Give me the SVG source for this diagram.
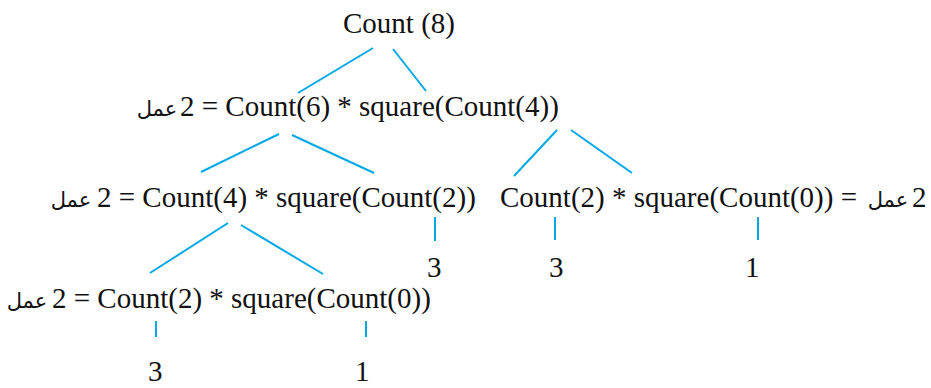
<svg xmlns="http://www.w3.org/2000/svg" width="931" height="388" viewBox="0 0 931 388">
<style>
.t{font-family:'Liberation Serif','Times New Roman',serif;font-size:29px;fill:#111}
.ar{font-family:'DejaVu Sans',sans-serif;font-size:21px;fill:#111;text-anchor:middle}
#connectors line{stroke:#00a9e6;stroke-width:2}
</style>
<rect width="931" height="388" fill="#fff"/>
<g id="connectors">
<line x1="373" y1="48" x2="298" y2="93"/>
<line x1="393" y1="49" x2="426" y2="91"/>
<line x1="279" y1="134" x2="201" y2="172"/>
<line x1="292" y1="135" x2="374" y2="173"/>
<line x1="557" y1="130" x2="514" y2="176"/>
<line x1="571" y1="130" x2="632" y2="173"/>
<line x1="228" y1="223" x2="150" y2="273"/>
<line x1="241" y1="225" x2="323" y2="274"/>
<line x1="435" y1="217" x2="435" y2="241"/>
<line x1="555" y1="217" x2="555" y2="240"/>
<line x1="758" y1="217" x2="758" y2="240"/>
<line x1="156" y1="321" x2="156" y2="337"/>
<line x1="366" y1="321" x2="366" y2="337"/>
</g>
<g id="n-root"><text class="t" x="343" y="33">Count (8)</text></g>
<g id="n-l1"><text class="ar" x="157" y="116">عمل</text><text class="t" x="180" y="116">2 = Count(6) * square(Count(4))</text></g>
<g id="n-l2a"><text class="ar" x="71" y="207">عمل</text><text class="t" x="97" y="207">2 = Count(4) * square(Count(2))</text></g>
<g id="n-l2b"><text class="t" x="500" y="207">Count(2) * square(Count(0)) =</text><text class="ar" x="888" y="207">عمل</text><text class="t" x="912" y="207">2</text></g>
<g id="n-l3"><text class="ar" x="27" y="308">عمل</text><text class="t" x="52" y="308">2 = Count(2) * square(Count(0))</text></g>
<g id="n-v1"><text class="t" x="427" y="277">3</text></g>
<g id="n-v2"><text class="t" x="549" y="277">3</text></g>
<g id="n-v3"><text class="t" x="745" y="277">1</text></g>
<g id="n-v4"><text class="t" x="148" y="381">3</text></g>
<g id="n-v5"><text class="t" x="355" y="381">1</text></g>
</svg>
